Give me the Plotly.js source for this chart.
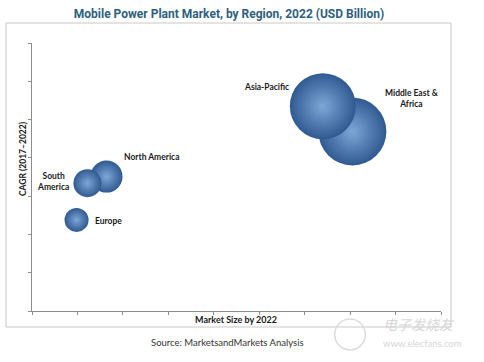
<!DOCTYPE html>
<html>
<head>
<meta charset="utf-8">
<script src="https://cdn.plot.ly/plotly-3.0.1.min.js"></script>
<style>
html,body{margin:0;padding:0;background:#fff;}
#chart{width:484px;height:362px;}
</style>
</head>
<body>
<div id="chart"></div>
<script>
// Data (drawing order: back to front)
const regions = ["Middle East &<br>Africa", "Asia-Pacific", "North America", "South<br>America", "Europe"];
const marketSize = [7.05, 6.40, 1.64, 1.22, 0.98];   // x: Market Size by 2022 (relative units)
const cagr = [4.69, 5.35, 3.51, 3.34, 2.38];         // y: CAGR (2017-2022) (relative units)
const bubbleSize = [68, 66, 32, 28, 24];             // bubble size

// label placement (pixel offsets from bubble centre)
const labelStyle = [
  {xshift: 60, yshift: 33, xanchor: "center"},
  {xshift: -56, yshift: 19, xanchor: "center"},
  {xshift: 45, yshift: 20, xanchor: "center"},
  {xshift: -34, yshift: 2, xanchor: "center"},
  {xshift: 16, yshift: -1, xanchor: "left"}
];

const labelFont = {family: "Lato, 'Open Sans', sans-serif", size: 8.5, color: "#1a1a1a", weight: 700};

const trace = {
  type: "scatter",
  mode: "markers",
  x: marketSize,
  y: cagr,
  hoverinfo: "skip",
  marker: {
    size: bubbleSize,
    sizemode: "diameter",
    color: "#2f5a91",
    opacity: 1,
    line: {width: 0},
    gradient: {type: "radial", color: "#7ea6d8"}
  }
};

const annotations = regions.map((r, i) => ({
  x: marketSize[i], y: cagr[i], xref: "x", yref: "y",
  text: "<b>" + r + "</b>", showarrow: false,
  xshift: labelStyle[i].xshift, yshift: labelStyle[i].yshift,
  xanchor: labelStyle[i].xanchor, yanchor: "middle",
  align: "center", font: labelFont
}));

annotations.push(
  {xref: "paper", yref: "paper", x: 0.499, y: -0.03, text: "<b>Market Size by 2022</b>",
   showarrow: false, xanchor: "center", yanchor: "middle",
   font: {family: "Lato, sans-serif", size: 9, color: "#1a1a1a"}},
  {xref: "paper", yref: "paper", x: -0.022, y: 0.567, text: "<b>CAGR (2017\u20132022)</b>",
   textangle: -90, showarrow: false, xanchor: "center", yanchor: "middle",
   font: {family: "Lato, sans-serif", size: 8.5, color: "#1a1a1a"}},
  {xref: "paper", yref: "paper", x: 0.479, y: -0.119, text: "Source: MarketsandMarkets Analysis",
   showarrow: false, xanchor: "center", yanchor: "middle",
   font: {family: "Lato, sans-serif", size: 9.5, color: "#333"}},
  {xref: "paper", yref: "paper", x: 0.945, y: -0.048, text: "<i>电子发烧友</i>",
   showarrow: false, xanchor: "center", yanchor: "middle",
   font: {family: "'Noto Sans CJK SC', sans-serif", size: 14, color: "#d6d6d6"}},
  {xref: "paper", yref: "paper", x: 0.955, y: -0.122, text: "www.elecfans.com",
   showarrow: false, xanchor: "center", yanchor: "middle",
   font: {family: "Lato, sans-serif", size: 9.5, color: "#d6d6d6"}}
);

const layout = {
  width: 484, height: 362,
  margin: {l: 32, r: 43, t: 43, b: 51, pad: 0},
  paper_bgcolor: "#fff", plot_bgcolor: "#fff",
  showlegend: false,
  title: {
    text: "<b>Mobile Power Plant Market, by Region, 2022 (USD Billion)</b>",
    x: 0.473, xanchor: "center", y: 0.961, yanchor: "middle",
    font: {family: "'Liberation Sans Narrow', 'Roboto', sans-serif", size: 12, color: "#2e5f7e"}
  },
  xaxis: {
    range: [0, 9], dtick: 1, tick0: 0, showticklabels: false, showgrid: false, zeroline: false,
    showline: true, linecolor: "#8c8c8c", linewidth: 1, ticks: "outside", ticklen: 3, tickcolor: "#8c8c8c",
    fixedrange: true
  },
  yaxis: {
    range: [0, 7], dtick: 1, tick0: 0, showticklabels: false, showgrid: false, zeroline: false,
    showline: true, linecolor: "#8c8c8c", linewidth: 1, ticks: "outside", ticklen: 3, tickcolor: "#8c8c8c",
    fixedrange: true
  },
  shapes: [
    {type: "rect", xref: "paper", yref: "paper", x0: -0.0636, x1: 1.0244, y0: -0.0597, y1: 1.0746,
     line: {color: "#c8c8c8", width: 1}, fillcolor: "rgba(0,0,0,0)", layer: "below"},
    {type: "circle", xref: "paper", yref: "paper", x0: 0.74, x1: 0.815, y0: -0.03, y1: -0.145,
     line: {color: "#dcdcdc", width: 1.5}, fillcolor: "rgba(0,0,0,0)", layer: "above"}
  ],
  annotations: annotations
};

Plotly.newPlot("chart", [trace], layout, {displayModeBar: false, staticPlot: true});
</script>
</body>
</html>
